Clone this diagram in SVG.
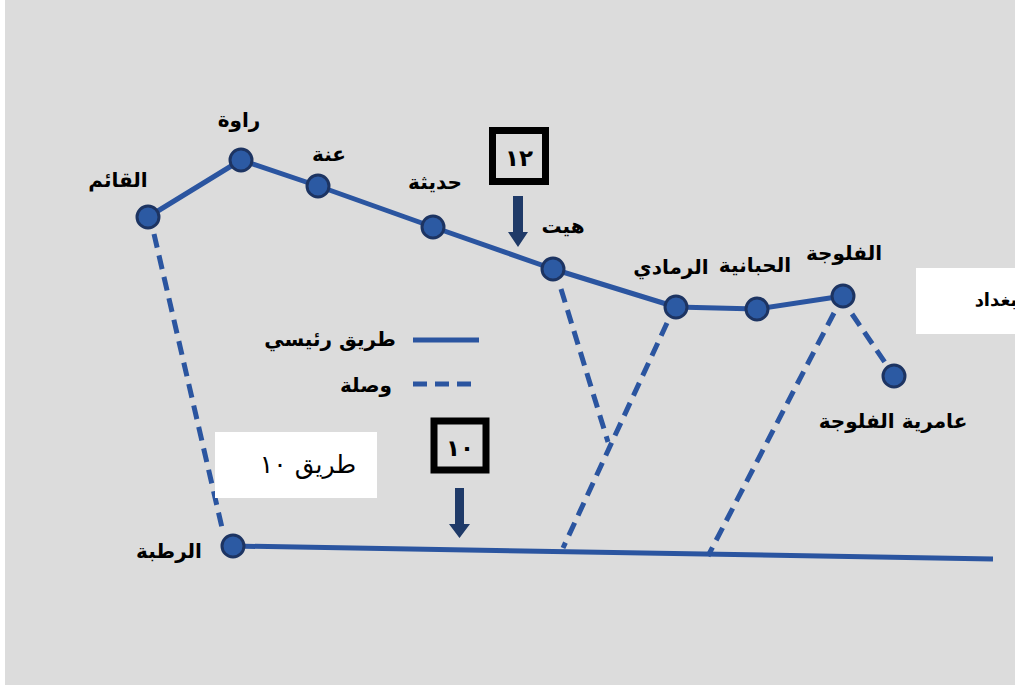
<svg xmlns="http://www.w3.org/2000/svg" width="1015" height="685" viewBox="0 0 1015 685">
<style>
.road{fill:none;stroke:#2b55a0;stroke-width:5;stroke-linejoin:round}
.link{fill:none;stroke:#2b55a0;stroke-width:5;stroke-dasharray:14 8}
.node{fill:#2c5aa3;stroke:#1d3462;stroke-width:3}
.lbl{font-family:"DejaVu Sans","Liberation Sans",sans-serif;font-weight:bold;font-size:20px;fill:#000;text-anchor:middle}
.box{fill:#dcdcdc;stroke:#000;stroke-width:7}
.num{font-family:"DejaVu Sans","Liberation Sans",sans-serif;font-weight:bold;font-size:23px;fill:#000;text-anchor:middle}
.arrow{fill:#1f3a68}
</style>
<rect x="0" y="0" width="1015" height="685" fill="#dcdcdc"/>
<rect x="0" y="0" width="5" height="685" fill="#ffffff"/>
<g id="connectors">
<polyline class="road" points="148,217 241,160 318,186 433,227 553,269 676,307 757,309 843,296"/>
<polyline class="road" stroke-width="4" points="233,546 993,559"/>
<line class="link" x1="154" y1="234" x2="223" y2="532"/>
<line class="link" x1="561" y1="289" x2="608" y2="442"/>
<line class="link" x1="667" y1="323" x2="563" y2="548"/>
<line class="link" x1="834" y1="313" x2="708" y2="556"/>
<line class="link" x1="852" y1="314" x2="886" y2="364"/>
</g>
<g id="node-qaim"><circle class="node" cx="148" cy="217" r="11"/><text class="lbl" x="118" y="187">القائم</text></g>
<g id="node-rawa"><circle class="node" cx="241" cy="160" r="11"/><text class="lbl" x="239" y="127">راوة</text></g>
<g id="node-ana"><circle class="node" cx="318" cy="186" r="11"/><text class="lbl" x="329" y="161">عنة</text></g>
<g id="node-haditha"><circle class="node" cx="433" cy="227" r="11"/><text class="lbl" x="435" y="189">حديثة</text></g>
<g id="node-hit"><circle class="node" cx="553" cy="269" r="11"/><text class="lbl" x="563" y="233">هيت</text></g>
<g id="node-ramadi"><circle class="node" cx="676" cy="307" r="11"/><text class="lbl" x="671" y="274">الرمادي</text></g>
<g id="node-habbaniya"><circle class="node" cx="757" cy="309" r="11"/><text class="lbl" x="755" y="272">الحبانية</text></g>
<g id="node-fallujah"><circle class="node" cx="843" cy="296" r="11"/><text class="lbl" x="844" y="260">الفلوجة</text></g>
<g id="node-amiriya"><circle class="node" cx="894" cy="376" r="11"/><text class="lbl" x="893" y="428">عامرية الفلوجة</text></g>
<g id="node-rutba"><circle class="node" cx="233" cy="546" r="11"/><text class="lbl" x="169" y="558">الرطبة</text></g>
<g id="marker-12">
<rect class="box" x="492.5" y="130.5" width="53" height="51"/>
<text class="num" x="519" y="166">١٢</text>
<path class="arrow" d="M513,196 H523 V232 H528 L518,247 L508,232 H513 Z"/>
</g>
<g id="marker-10">
<rect class="box" x="434" y="421" width="52" height="49" stroke-width="8"/>
<text class="num" x="460" y="456">١٠</text>
<path class="arrow" d="M455,488 H464 V524 H470 L459.5,538 L449,524 H455 Z"/>
</g>
<g id="legend">
<line class="road" x1="413" y1="340" x2="479" y2="340"/>
<line class="link" x1="413" y1="384" x2="477" y2="384" stroke-dasharray="11 5"/>
<text class="lbl" x="330" y="346">طريق رئيسي</text>
<text class="lbl" x="366" y="392">وصلة</text>
</g>
<g id="label-road10">
<rect x="215" y="432" width="162" height="66" fill="#ffffff"/>
<text x="308" y="473" font-family="DejaVu Sans, Liberation Sans, sans-serif" font-size="25" text-anchor="middle" fill="#000">طريق ١٠</text>
</g>
<g id="label-baghdad">
<rect x="916" y="268" width="99" height="66" fill="#ffffff"/>
<text x="996" y="306" font-family="DejaVu Sans, Liberation Sans, sans-serif" font-weight="bold" font-size="18" text-anchor="middle" fill="#000">بغداد</text>
</g>
</svg>
